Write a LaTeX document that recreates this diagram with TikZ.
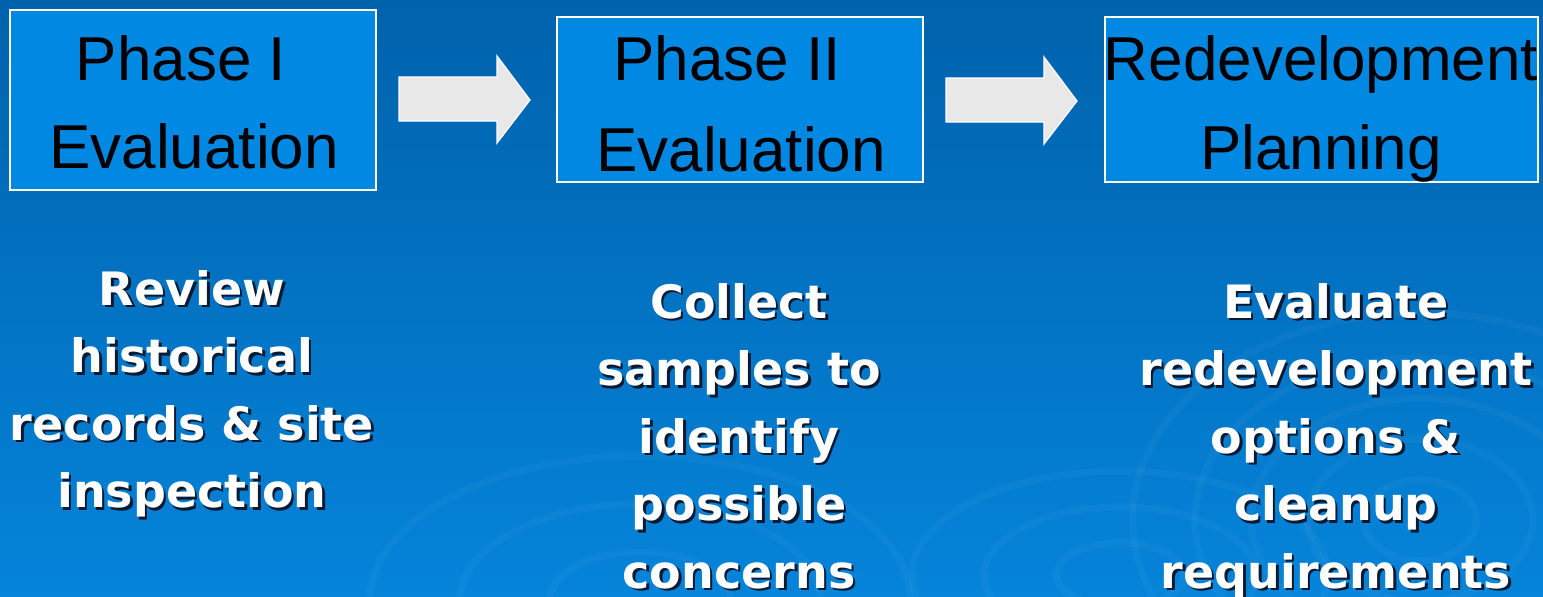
\documentclass[tikz,border=0pt]{standalone}
\usepackage{fontspec}
\setmainfont{Liberation Sans}
\newfontfamily\descfont{DejaVu Sans}
\definecolor{bgtop}{HTML}{0062AC}
\definecolor{bgbot}{HTML}{0584DA}
\definecolor{boxfill}{HTML}{0088E2}
\definecolor{arrowfill}{HTML}{E8E8E8}
\definecolor{shadowc}{HTML}{0A1A33}
\tikzset{
  phasebox/.style={draw=white, line width=1.5pt, fill=boxfill, inner sep=0pt},
  boxtext/.style={inner sep=0pt, anchor=base, font=\fontsize{62}{90}\selectfont, text=black},
  blockarrow/.style={fill=arrowfill, draw=white, line width=1.2pt, line join=miter},
  desc/.style={align=center, inner sep=0pt, anchor=north, font=\descfont\bfseries\fontsize{46}{67.5}\selectfont, text=white},
  descshadow/.style={desc, text=shadowc},
  swirl/.style={draw=white, opacity=0.035, line width=7pt}
}
\begin{document}
\begin{tikzpicture}[x=1pt,y=-1pt]
\shade[top color=bgtop, bottom color=bgbot] (0,0) rectangle (1543,597);
\useasboundingbox (0,0) rectangle (1543,597);
% faint swirls
\begin{scope}
\clip (0,0) rectangle (1543,597);
\foreach \r in {45,90,135,180,230}{\draw[swirl] (1420,520) ellipse ({\r*1.25} and {\r*0.9});}
\foreach \r in {40,85,130}{\draw[swirl] (1120,575) ellipse ({\r*1.6} and {\r*0.8});}
\foreach \r in {60,120,180}{\draw[swirl] (640,600) ellipse ({\r*1.5} and {\r*0.8});}
\end{scope}
% boxes
\node[phasebox, minimum width=366pt, minimum height=180pt] (b1) at (193,100) {};
\node[phasebox, minimum width=366pt, minimum height=165pt] (b2) at (740,99.5) {};
\node[phasebox, minimum width=433pt, minimum height=165pt] (b3) at (1321.5,99.5) {};
\node[boxtext] (t1a) at (181,80) {Phase I};
\node[boxtext] (t1b) at (194,168) {Evaluation};
\node[boxtext] (t2a) at (727,80) {Phase II};
\node[boxtext] (t2b) at (741,171) {Evaluation};
\node[boxtext] (t3a) at (1321,80) {Redevelopment};
\node[boxtext] (t3b) at (1321,169) {Planning};
% block arrows
\draw[blockarrow] (399,77) -- (497,77) -- (497,56) -- (530,100) -- (497,143) -- (497,121) -- (399,121) -- cycle;
\draw[blockarrow] (946,78) -- (1044,78) -- (1044,57) -- (1077,101) -- (1044,144) -- (1044,122) -- (946,122) -- cycle;
% descriptions
\node[descshadow] (d1s) at (194.5,271.5) {\rule{0pt}{36pt}Review\\historical\\records \& site\\inspection};
\node[desc] (d1) at (192,269) {\rule{0pt}{36pt}Review\\historical\\records \& site\\inspection};
\node[descshadow] (d2s) at (741.5,284.5) {\rule{0pt}{36pt}Collect\\samples to\\identify\\possible\\concerns};
\node[desc] (d2) at (739,282) {\rule{0pt}{36pt}Collect\\samples to\\identify\\possible\\concerns};
\node[descshadow] (d3s) at (1338.5,284.5) {\rule{0pt}{36pt}Evaluate\\redevelopment\\options \&\\cleanup\\requirements};
\node[desc] (d3) at (1336,282) {\rule{0pt}{36pt}Evaluate\\redevelopment\\options \&\\cleanup\\requirements};
\end{tikzpicture}
\end{document}
